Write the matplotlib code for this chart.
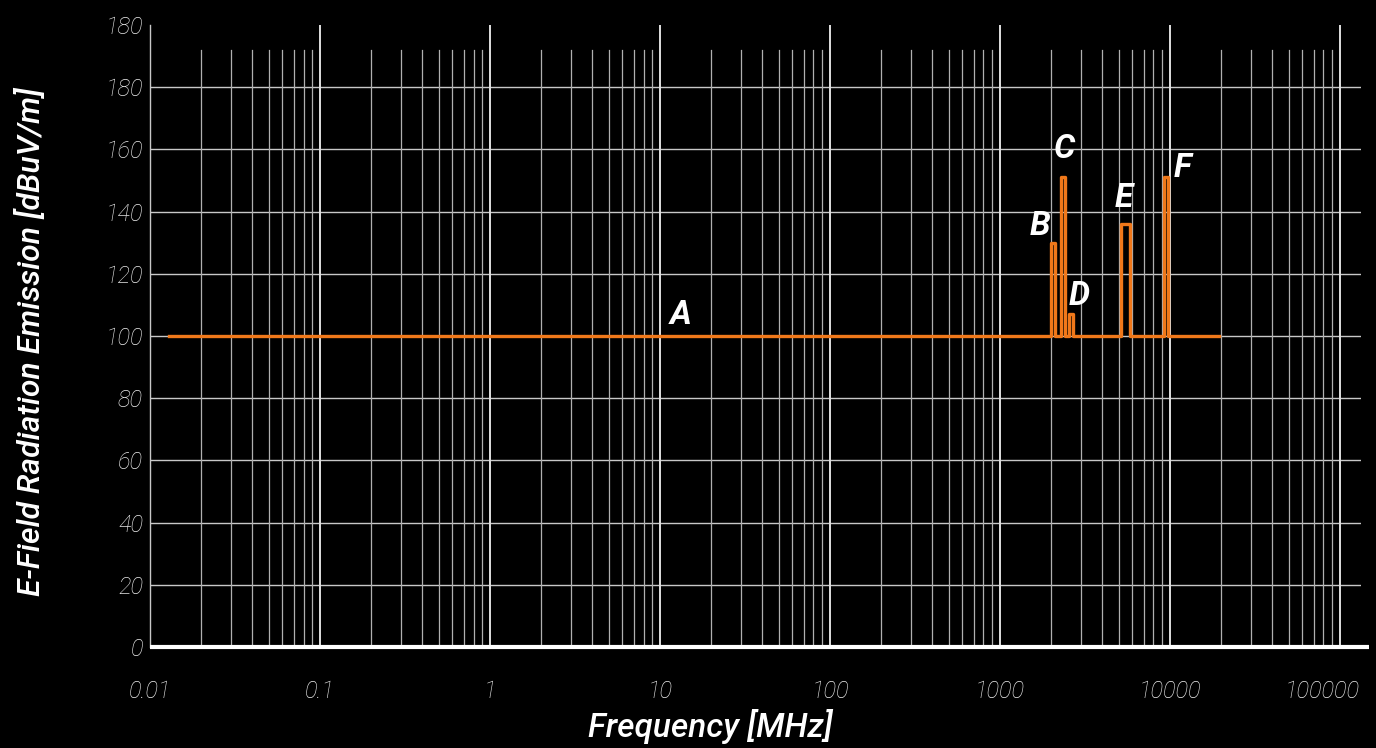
"""Recreate the E-field emission chart (orange step trace on a dark log grid)."""
import matplotlib
matplotlib.use('Agg')
import matplotlib.pyplot as plt
from matplotlib.transforms import ScaledTranslation

# step trace: frequency breakpoints [MHz] and level [dBuV/m]
freq = [0.013, 2000, 2000, 2110, 2110, 2290, 2290, 2420, 2420, 2540, 2540, 2700, 2700,
        5150, 5150, 5850, 5850, 9250, 9250, 9750, 9750, 19500]
level = [100, 100, 130, 130, 100, 100, 151, 151, 100, 100, 107, 107, 100,
         100, 136, 136, 100, 100, 151, 151, 100, 100]

# band labels
label_text = ['A', 'B', 'C', 'D', 'E', 'F']
label_freq = [13.3, 1720, 2380, 2920, 5360, 11900]
label_level = [106.8, 135.5, 160, 113, 144.5, 154]

xtick_vals = [0.01, 0.1, 1, 10, 100, 1000, 10000, 100000]
xtick_text = ['0.01', '0.1', '1', '10', '100', '1000', '10000', '100000']
ytick_vals = [0, 20, 40, 60, 80, 100, 120, 140, 160, 180, 200]
ytick_text = ['0', '20', '40', '60', '80', '100', '120', '140', '160', '180', '180']

FONT = ['Roboto', 'DejaVu Sans']
ORANGE = '#f0781a'

fig = plt.figure(figsize=(13.76, 7.48), dpi=100, facecolor='black')
ax = fig.add_axes([150 / 1376, 101 / 748, 1211 / 1376, 622 / 748])
ax.set_facecolor('black')
ax.set_xscale('log')
ax.set_xlim(0.01, 1.33e5)
ax.set_ylim(0, 200)

# grid drawn by hand: decades run full height, minors stop a bit lower
for yv in ytick_vals[1:-1]:
    ax.axhline(yv, color='#c8c8c8', lw=1.0, zorder=1)
for d in xtick_vals[1:]:
    ax.axvline(d, ymax=1.0, color='#e0e0e0', lw=1.4, zorder=1)
for d in xtick_vals:
    for m in range(2, 10):
        if d * m < 1.33e5:
            ax.axvline(d * m, ymax=192 / 200, color='#b0b0b0', lw=0.9, zorder=1)

ax.plot(freq, level, color=ORANGE, lw=2.4, zorder=3)

for t, f, lv in zip(label_text, label_freq, label_level):
    ax.text(f, lv, t, color='white', fontsize=24, fontstyle='italic',
            fontweight='bold', family=FONT, ha='center', va='center', zorder=4)

for s in ['top', 'right', 'bottom']:
    ax.spines[s].set_visible(False)
ax.spines['left'].set_color('#c8c8c8')
ax.spines['left'].set_linewidth(1.0)
ax.plot([0, 1.007], [0, 0], transform=ax.transAxes, color='white', lw=3,
        clip_on=False, zorder=5, solid_capstyle='butt')

ax.set_xticks(xtick_vals)
ax.set_xticklabels(xtick_text)
ax.set_yticks(ytick_vals)
ax.set_yticklabels(ytick_text)
ax.minorticks_off()
ax.tick_params(length=0, colors='#e6e6e6')
for lab in ax.get_xticklabels() + ax.get_yticklabels():
    lab.set_family(FONT)
    lab.set_fontstyle('italic')
    lab.set_fontweight('light')
    lab.set_fontsize(17)
    lab.set_color('#e6e6e6')
ax.tick_params(axis='x', pad=24)
ax.tick_params(axis='y', pad=5)
# last x label sits pulled in from the edge
last = ax.get_xticklabels()[-1]
last.set_transform(last.get_transform() + ScaledTranslation(-0.18, 0, fig.dpi_scale_trans))

fig.text(710 / 1376, 1 - 727 / 748, 'Frequency [MHz]', color='white',
         fontsize=24, fontstyle='italic', fontweight='medium', family=FONT,
         ha='center', va='center')
fig.text(31 / 1376, 1 - 342 / 748, 'E-Field Radiation Emission [dBuV/m]',
         color='white', fontsize=23, fontstyle='italic', fontweight='medium', family=FONT,
         ha='center', va='center', rotation=90)

fig.savefig('out.png', dpi=100, facecolor='black')
